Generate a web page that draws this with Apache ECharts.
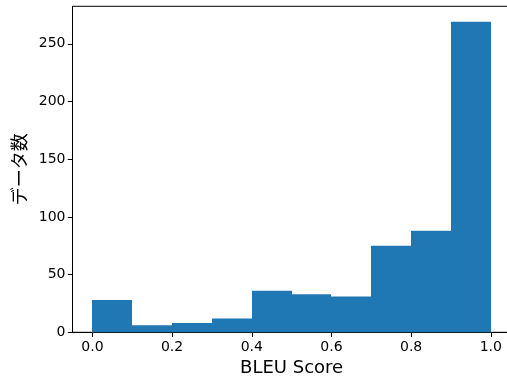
<!DOCTYPE html>
<html>
<head>
<meta charset="utf-8">
<script src="https://cdn.jsdelivr.net/npm/echarts@6/dist/echarts.min.js"></script>
<style>
html,body{margin:0;padding:0;background:#fff;}
#chart{width:507px;height:384px;}
</style>
</head>
<body>
<div id="chart"></div>
<script>
// Histogram bins (left edges, right edges) and counts
const binStarts = [0.0, 0.1, 0.2, 0.3, 0.4, 0.5, 0.6, 0.7, 0.8, 0.9];
const binEnds   = [0.1, 0.2, 0.3, 0.4, 0.5, 0.6, 0.7, 0.8, 0.9, 1.0];
const counts    = [28, 6, 8, 12, 36, 33, 31, 75, 88, 269];
const xTicks = [0.0, 0.2, 0.4, 0.6, 0.8, 1.0];
const yTicks = [0, 50, 100, 150, 200, 250];
const xLabel = 'BLEU Score';
const yLabel = 'データ数';

const FONT = '"DejaVu Sans", "Noto Sans CJK JP", sans-serif';
const JFONT = '"Noto Sans CJK JP", sans-serif';
const data = binStarts.map((s, i) => [s, binEnds[i], counts[i]]);
const yMax = Math.max(...counts) * 1.05;

const chart = echarts.init(document.getElementById('chart'));
chart.setOption({
  animation: false,
  backgroundColor: '#fff',
  grid: { left: 72.5, top: 6.3, width: 438.2, height: 326, containLabel: false, outerBoundsMode: 'none',
          show: true, borderColor: '#000', borderWidth: 1, backgroundColor: 'transparent' },
  xAxis: {
    type: 'value', min: -0.05, max: 1.05,
    splitLine: { show: false },
    axisLine: { show: true, onZero: false, lineStyle: { color: '#000', width: 1 } },
    axisTick: { show: true, inside: false, length: 4.7, lineStyle: { color: '#000', width: 1 }, customValues: xTicks },
    axisLabel: { color: '#000', fontSize: 14, fontFamily: FONT, margin: 8, customValues: xTicks,
      formatter: v => v.toFixed(1) },
    name: xLabel, nameLocation: 'middle', nameGap: 27,
    nameTextStyle: { color: '#000', fontSize: 18, fontFamily: FONT }
  },
  yAxis: {
    type: 'value', min: 0, max: yMax,
    splitLine: { show: false },
    axisLine: { show: true, onZero: false, lineStyle: { color: '#000', width: 1 } },
    axisTick: { show: true, inside: false, length: 4.7, lineStyle: { color: '#000', width: 1 }, customValues: yTicks },
    axisLabel: { color: '#000', fontSize: 14, fontFamily: FONT, margin: 7, customValues: yTicks,
      formatter: v => String(v) },
    name: yLabel, nameLocation: 'middle', nameGap: 40, nameRotate: 90,
    nameTextStyle: { color: '#000', fontSize: 18, fontFamily: JFONT }
  },
  series: [{
    type: 'custom',
    data: data,
    encode: { x: [0, 1], y: 2 },
    renderItem: function (params, api) {
      const p0 = api.coord([api.value(0), 0]);
      const p1 = api.coord([api.value(1), api.value(2)]);
      const x0 = Math.round(p0[0]), x1 = Math.round(p1[0]);
      return {
        type: 'rect',
        shape: { x: x0, y: p1[1], width: x1 - x0, height: p0[1] - p1[1] },
        style: { fill: '#1f77b4' }
      };
    }
  }]
});
</script>
</body>
</html>
